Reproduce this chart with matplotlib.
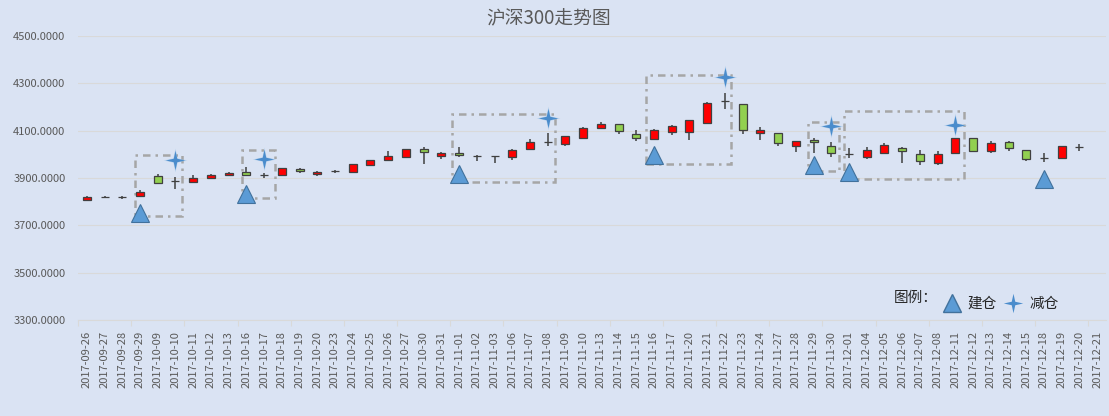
import numpy as np
import matplotlib
matplotlib.use("Agg")
import matplotlib.pyplot as plt
from matplotlib.path import Path
from matplotlib.patches import Rectangle
from matplotlib.lines import Line2D

plt.rcParams['font.family'] = ['Noto Sans CJK SC', 'DejaVu Sans']

# ---------------------------------------------------------------
# Données
# ---------------------------------------------------------------
dates = ['2017-09-26', '2017-09-27', '2017-09-28', '2017-09-29', '2017-10-09',
         '2017-10-10', '2017-10-11', '2017-10-12', '2017-10-13', '2017-10-16',
         '2017-10-17', '2017-10-18', '2017-10-19', '2017-10-20', '2017-10-23',
         '2017-10-24', '2017-10-25', '2017-10-26', '2017-10-27', '2017-10-30',
         '2017-10-31', '2017-11-01', '2017-11-02', '2017-11-03', '2017-11-06',
         '2017-11-07', '2017-11-08', '2017-11-09', '2017-11-10', '2017-11-13',
         '2017-11-14', '2017-11-15', '2017-11-16', '2017-11-17', '2017-11-20',
         '2017-11-21', '2017-11-22', '2017-11-23', '2017-11-24', '2017-11-27',
         '2017-11-28', '2017-11-29', '2017-11-30', '2017-12-01', '2017-12-04',
         '2017-12-05', '2017-12-06', '2017-12-07', '2017-12-08', '2017-12-11',
         '2017-12-12', '2017-12-13', '2017-12-14', '2017-12-15', '2017-12-18',
         '2017-12-19', '2017-12-20', '2017-12-21']

opens = [3807, 3819, 3818, 3825, 3908, 3886, 3883, 3899, 3911, 3925,
         3911, 3911, 3938, 3917, 3928, 3925, 3953, 3978, 3990, 4022,
         3991, 4005, 3995, 3991, 3987, 4021, 4050, 4042, 4067, 4113,
         4127, 4085, 4064, 4094, 4094, 4132, 4227, 4212, 4091, 4091,
         4036, 4062, 4036, 4001, 3989, 4006, 4028, 4002, 3964, 4006,
         4070, 4015, 4053, 4019, 3984, 3984, 4033, np.nan]
highs = [3823, 3826, 3822, 3850, 3918, 3904, 3913, 3917, 3926, 3946,
         3921, 3943, 3944, 3931, 3934, 3961, 3977, 4013, 4023, 4031,
         4009, 4031, 3996, 3992, 4024, 4064, 4089, 4079, 4115, 4136,
         4129, 4101, 4106, 4123, 4145, 4220, 4261, 4214, 4116, 4092,
         4058, 4070, 4052, 4028, 4031, 4046, 4032, 4018, 4015, 4071,
         4071, 4055, 4057, 4020, 4006, 4037, 4045, np.nan]
lows = [3805, 3814, 3813, 3825, 3874, 3854, 3880, 3895, 3908, 3910,
        3899, 3910, 3921, 3907, 3921, 3924, 3951, 3970, 3989, 3959,
        3980, 3989, 3972, 3963, 3977, 4020, 4036, 4036, 4066, 4112,
        4085, 4056, 4060, 4083, 4060, 4128, 4191, 4085, 4059, 4036,
        4011, 4006, 3988, 3984, 3981, 4005, 3964, 3955, 3955, 4005,
        4014, 4006, 4015, 3971, 3968, 3983, 4014, np.nan]
closes = [3821, 3819, 3818, 3839, 3879, 3886, 3900, 3913, 3922, 3911,
          3911, 3942, 3928, 3925, 3928, 3959, 3975, 3992, 4021, 4008,
          4005, 3997, 3995, 3991, 4018, 4052, 4050, 4077, 4111, 4127,
          4097, 4071, 4102, 4119, 4144, 4216, 4227, 4102, 4104, 4049,
          4057, 4052, 4006, 4001, 4018, 4040, 4015, 3971, 4002, 4070,
          4015, 4049, 4028, 3981, 3984, 4036, 4033, np.nan]

# Points 建仓 / 减仓 (indice de la date, niveau)
buy_idx = [3, 9, 21, 32, 41, 43, 54]
buy_val = [3750, 3834, 3918, 3998, 3957, 3924, 3897]
sell_idx = [5, 10, 26, 36, 42, 49]
sell_val = [3977, 3982, 4155, 4328, 4120, 4124]

# Zones encadrées (indice début, indice fin, bas, haut)
zones = [(2.72, 5.37, 3738, 3999),
         (8.75, 10.62, 3816, 4020),
         (20.6, 26.4, 3882, 4171),
         (31.55, 36.35, 3960, 4335),
         (40.7, 42.45, 3931, 4137),
         (42.7, 49.5, 3897, 4184)]

# ---------------------------------------------------------------
# Graphique
# ---------------------------------------------------------------
bg = '#dae3f3'
txt = '#595959'

fig = plt.figure(figsize=(11.09, 4.16), dpi=100, facecolor=bg)
ax = fig.add_axes([78 / 1109, 1 - 320 / 416, 1028 / 1109, 284 / 416])
ax.set_facecolor(bg)

x = np.arange(len(dates))
o = np.array(opens, dtype=float)
h = np.array(highs, dtype=float)
l = np.array(lows, dtype=float)
c = np.array(closes, dtype=float)
ok = ~np.isnan(o)

# mèches
ax.vlines(x[ok], l[ok], h[ok], color='#404040', linewidth=1.1, zorder=3)

# corps
couleurs = ['#ff0000' if cc > oo else '#92d050' for oo, cc in zip(o[ok], c[ok])]
ax.bar(x[ok], c[ok] - o[ok], bottom=o[ok], width=0.45, color=couleurs,
       edgecolor='#404040', linewidth=0.9, zorder=4)

# zones
for x0, x1, lo, hi in zones:
    ax.add_patch(Rectangle((x0, lo), x1 - x0, hi - lo, fill=False,
                           edgecolor='#a6a6a6', linewidth=1.8,
                           linestyle=(0, (3, 2, 1, 2)), zorder=2))

# étoile à 4 branches
r = 0.18
star_path = Path([(0, 1), (r, r), (1, 0), (r, -r), (0, -1), (-r, -r),
                  (-1, 0), (-r, r), (0, 1)], closed=True)

ax.plot(x[buy_idx], buy_val, linestyle='none', marker='^', markersize=12.5,
        markerfacecolor='#5b9bd5', markeredgecolor='#41719c',
        markeredgewidth=0.8, zorder=6)
ax.plot(x[sell_idx], sell_val, linestyle='none', marker=star_path,
        markersize=17, markerfacecolor='#9dc3e6', markeredgecolor='none',
        alpha=0.6, zorder=6)
ax.plot(x[sell_idx], sell_val, linestyle='none', marker=star_path,
        markersize=14, markerfacecolor='#4a8ccc', markeredgecolor='none',
        zorder=7)

# axes
ax.set_xlim(-0.5, len(dates) - 0.5)
ax.set_ylim(3300, 4500)
ax.set_yticks(np.arange(3300, 4501, 200))
ax.set_yticklabels(['%.4f' % v for v in np.arange(3300, 4501, 200)])
ax.set_xticks(x)
ax.set_xticklabels(dates, rotation=90)
ax.set_xticks(np.arange(-0.5, len(dates), 3), minor=True)
ax.tick_params(axis='x', which='major', length=0, pad=8, labelsize=8, labelcolor=txt)
ax.tick_params(axis='x', which='minor', length=4, color='#d9d9d9', width=0.8)
ax.tick_params(axis='y', length=0, pad=9, labelsize=8, labelcolor=txt)
ax.yaxis.grid(True, color='#d9d9d9', linewidth=0.8)
ax.set_axisbelow(True)
for s in ['top', 'right', 'left']:
    ax.spines[s].set_visible(False)
ax.spines['bottom'].set_color('#d9d9d9')

# titre
fig.text(0.495, 0.955, '沪深300走势图', ha='center', va='center',
         fontsize=13.5, color=txt)

# légende
fig.text(894 / 1109, 1 - 298 / 416, '图例：', ha='left', va='center',
         fontsize=10.5, color='#262626')
handles = [Line2D([], [], linestyle='none', marker='^', markersize=12.5,
                  markerfacecolor='#5b9bd5', markeredgecolor='#41719c'),
           Line2D([], [], linestyle='none', marker=star_path, markersize=14,
                  markerfacecolor='#4a8ccc', markeredgecolor='none')]
leg = fig.legend(handles, ['建仓', '减仓'], loc='center left',
                 bbox_to_anchor=(930 / 1109, 1 - 304 / 416), ncol=2,
                 frameon=False, fontsize=10.5, handlelength=1.2,
                 handletextpad=0.5, columnspacing=0.5)
for t in leg.get_texts():
    t.set_color('#262626')

fig.savefig('out.png', dpi=100, facecolor=bg)
